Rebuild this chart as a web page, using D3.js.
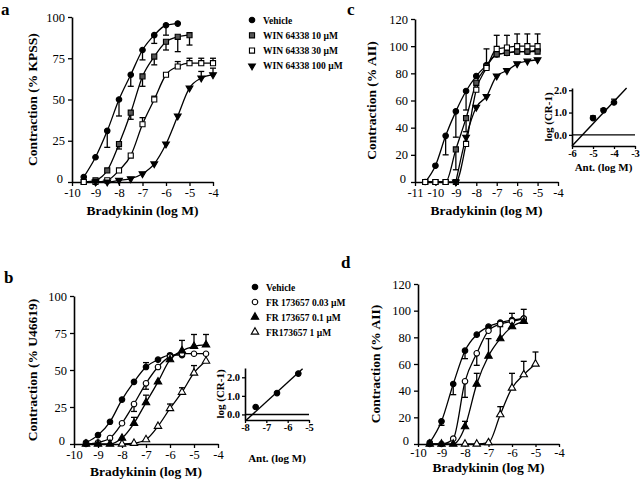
<!DOCTYPE html>
<html><head><meta charset="utf-8">
<script src="https://cdn.jsdelivr.net/npm/d3@7"></script>
<style>
body{margin:0;background:#fff}
svg{display:block}
svg text{font-family:"Liberation Serif","DejaVu Serif",serif !important;fill:#000}
</style>
</head><body>
<svg id="c" width="640" height="480"></svg>
<script>
// ---------- DATA ----------
// Panel a (WIN 64338, % KPSS)
const aVehX = [-9.5,-9,-8.5,-8,-7.5,-7,-6.5,-6,-5.5];
const aVehY = [3,15,31,50,65,80,89,95,96];
const aVehE = [0,0,-10,-10,-7,-6,-5,-6,0];
const aW10X = [-9.5,-9,-8.5,-8,-7.5,-7,-6.5,-6,-5.5,-5];
const aW10Y = [0,1,7,23,42,64,76,85,88,89];
const aW10E = [0,0,0,-3,-4,-6,-5,-5,-9,-6];
const aW30X = [-9.5,-9,-8.5,-8,-7.5,-7,-6.5,-6,-5.5,-5,-4.5,-4];
const aW30Y = [0,0,1,7,16,35,50,65,70,72,72,72];
const aW30E = [0,0,0,0,0,4,2,0,3,3,3,3];
const aW100X = [-9,-8.5,-8,-7.5,-7,-6.5,-6,-5.5,-5,-4.5,-4];
const aW100Y = [0,0,1,2,5,11,23,40,57,63,65];
const aW100E = [0,0,0,0,0,0,0,0,0,4,4];

// Panel c (WIN 64338, % AII)
const cX = [-10.5,-10,-9.5,-9,-8.5,-8,-7.5,-7,-6.5,-6,-5.5,-5];
const cVehY = [0,12,34,52,67,78,86,94,95,96,96,97];
const cVehE = [0,0,-14,-19,-14,0,0,0,0,0,0,0];
const cW10Y = [0,0,0,24,47,73,85,94,95,96,96,96];
const cW10E = [0,0,0,-15,-10,0,0,0,0,0,0,0];
const cW30Y = [0,0,0,0,28,68,84,98,99,100,100,100];
const cW30E = [0,0,0,0,0,0,14,10,9,9,9,9];
const cW100X = [-9,-8.5,-8,-7.5,-7,-6.5,-6,-5.5,-5];
const cW100Y = [0,33,55,63,78,82,87,89,90];
const cW100E = [0,0,0,0,0,0,0,0,0];

// Panel b (FR 173657, % U46619)
const bVehX = [-9.5,-9,-8.5,-8,-7.5,-7,-6.5,-6,-5.5];
const bVehY = [1,6,15,30,42,52,57,60,60];
const bVehE = [0,0,0,0,0,3,0,0,0];
const bF003X = [-9.5,-9,-8.5,-8,-7.5,-7,-6.5,-6,-5.5,-5,-4.5];
const bF003Y = [0,1,4,14,27,41,52,59,61,61,61];
const bF003E = [0,0,0,0,-5,-4,0,0,0,0,0];
const bF01X = [-9.5,-9,-8.5,-8,-7.5,-7,-6.5,-6,-5.5,-5,-4.5];
const bF01Y = [0,0,0,4,14,28,42,57,63,66,67];
const bF01E = [0,0,0,0,4,5,0,0,7,8,7];
const bF1X = [-8,-7.5,-7,-6.5,-6,-5.5,-5,-4.5];
const bF1Y = [0,0.5,3,12,24,35,48,56];
const bF1E = [0,0,0,0,3,3,5,0];

// Panel d (FR 173657, % AII)
const dX = [-9.5,-9,-8.5,-8,-7.5,-7,-6.5,-6,-5.5];
const dVehY = [1,17,45,70,82,88,91,93,94];
const dVehE = [0,-3,-8,-6,0,0,0,5,7];
const dF003Y = [0,0,4,47,68,85,90,92,94];
const dF003E = [0,0,0,-12,-9,0,0,0,0];
const dF01Y = [0,0,0,13,45,66,79,88,92];
const dF01E = [0,0,0,4,8,13,9,0,0];
const dF1X = [-8,-7.5,-7,-6.5,-6,-5.5,-5];
const dF1Y = [0,0,1,22,42,52,60];
const dF1E = [0,0,0,6,11,10,9];

// Schild insets
const bAntX = [-7.5,-6.5,-5.5];
const bAntY = [0.4,1.15,2.2];
const bFit = {slope:1.05, intercept:8.03, from:-7.95, to:-5.3};
const cAntX = [-5,-4.5,-4];
const cAntY = [0.75,1.1,1.45];
const cAntE = [0.1,0.08,0.15];
const cFit = {slope:1.0, intercept:5.5, from:-6, to:-3.4};

// Legends and tick labels
const legendA = ["Vehicle","WIN 64338 10 \u00b5M","WIN 64338 30 \u00b5M","WIN 64338 100 \u00b5M"];
const legendB = ["Vehicle","FR 173657 0.03 \u00b5M","FR 173657 0.1 \u00b5M","FR173657 1 \u00b5M"];
const ticksX10 = [-10,-9,-8,-7,-6,-5,-4];
const ticksX11 = [-11,-10,-9,-8,-7,-6,-5,-4];
const ticksY100 = [0,25,50,75,100];
const ticksY120 = [0,20,40,60,80,100,120];

// ---------- DRAWING ----------
const FONT = "'Liberation Serif','DejaVu Serif',serif";
const svg = d3.select("#c");
const SYM = {
  fc:{t:d3.symbolCircle,s:24,f:"#000",r:0},
  gs:{t:d3.symbolSquare,s:26,f:"#555",r:0},
  os:{t:d3.symbolSquare,s:26,f:"#fff",r:0},
  ftd:{t:d3.symbolTriangle,s:20,f:"#000",r:180},
  oc:{t:d3.symbolCircle,s:24,f:"#fff",r:0},
  ft:{t:d3.symbolTriangle,s:24,f:"#000",r:0},
  ot:{t:d3.symbolTriangle,s:24,f:"#fff",r:0}
};
function drawSym(g, key, px, py){
  const s = SYM[key];
  g.append("path").attr("d", d3.symbol().type(s.t).size(s.s)())
    .attr("transform", `translate(${px},${py}) rotate(${s.r})`)
    .attr("fill", s.f).attr("stroke","#000").attr("stroke-width",1.1);
}
function styleAxis(sel, fs){
  sel.attr("font-family", FONT);
  sel.select(".domain").attr("stroke","#000").attr("stroke-width",1.6);
  sel.selectAll(".tick line").attr("stroke","#000").attr("stroke-width",1.3);
  sel.selectAll(".tick text").attr("font-size",fs).attr("fill","#000").style("font-family", FONT);
}
function txt(g){ return g.append("text").style("font-family", FONT); }
function panel(cfg){
  const x = d3.scaleLinear().domain(cfg.xd).range(cfg.xr);
  const y = d3.scaleLinear().domain(cfg.yd).range(cfg.yr);
  const g = svg.append("g");
  const ax = g.append("g").attr("transform",`translate(0,${cfg.yr[0]})`)
    .call(d3.axisBottom(x).tickValues(cfg.xt).tickSize(cfg.xts||4).tickSizeOuter(0).tickPadding(cfg.xpad||2).tickFormat(d=>String(d)));
  styleAxis(ax, 12.5);
  const ay = g.append("g").attr("transform",`translate(${cfg.xr[0]},0)`)
    .call(d3.axisLeft(y).tickValues(cfg.yt).tickSize(4).tickSizeOuter(0).tickPadding(3).tickFormat(d=>String(d)));
  styleAxis(ay, 12.5);
  ay.selectAll(".tick text").filter(d=>d===0).attr("dy","0.05em").attr("dx","-2");
  txt(g).attr("x",(cfg.xr[0]+cfg.xr[1])/2).attr("y",cfg.xtY)
    .attr("text-anchor","middle").attr("font-size",13.5).attr("font-weight","bold").text("Bradykinin (log M)");
  txt(g).attr("transform",`translate(${cfg.ytX},${(cfg.yr[0]+cfg.yr[1])/2}) rotate(-90)`)
    .attr("text-anchor","middle").attr("font-size",13.5).attr("font-weight","bold").text(cfg.ytitle);
  txt(g).attr("x",cfg.lab[0]).attr("y",cfg.lab[1]).attr("font-size",17).attr("font-weight","bold").text(cfg.label);
  const line = d3.line().x(d=>x(d[0])).y(d=>y(d[1])).curve(d3.curveMonotoneX);
  cfg.series.forEach(s=>{
    const pts = s.x.map((v,i)=>[v,s.y[i]]);
    g.append("path").attr("d",line(pts)).attr("fill","none").attr("stroke","#000").attr("stroke-width",1.3);
  });
  cfg.series.forEach(s=>{
    s.x.forEach((v,i)=>{
      const e = s.e[i]; if(!e) return;
      const px = x(v), y0 = y(s.y[i]), y1 = y(s.y[i]+e);
      g.append("line").attr("x1",px).attr("x2",px).attr("y1",y0).attr("y2",y1).attr("stroke","#000").attr("stroke-width",1.3);
      g.append("line").attr("x1",px-3).attr("x2",px+3).attr("y1",y1).attr("y2",y1).attr("stroke","#000").attr("stroke-width",1.3);
    });
  });
  cfg.series.forEach(s=>{
    s.x.forEach((v,i)=> drawSym(g, s.sym, x(v), y(s.y[i])));
  });
}
function inset(cfg){
  const x = d3.scaleLinear().domain(cfg.xd).range(cfg.xr);
  const y = d3.scaleLinear().domain(cfg.yd).range(cfg.yr);
  const g = svg.append("g");
  const ax = g.append("g").attr("transform",`translate(0,${cfg.yr[0]})`)
    .call(d3.axisBottom(x).tickValues(cfg.xt).tickSize(3).tickSizeOuter(0).tickPadding(1).tickFormat(d=>String(d)));
  styleAxis(ax, 10.5);
  const ay = g.append("g").attr("transform",`translate(${cfg.xr[0]},0)`)
    .call(d3.axisLeft(y).tickValues(cfg.yt).tickSize(3).tickSizeOuter(0).tickPadding(2).tickFormat(d3.format(".1f")));
  styleAxis(ay, 10.5);
  g.selectAll(".tick text").attr("font-weight","bold");
  g.append("line").attr("x1",x(cfg.xd[0])).attr("x2",x(cfg.xd[1])).attr("y1",y(0)).attr("y2",y(0))
    .attr("stroke","#000").attr("stroke-width",1.4);
  const f = cfg.fit;
  g.append("line").attr("x1",x(f.from)).attr("y1",y(f.slope*f.from+f.intercept))
    .attr("x2",x(f.to)).attr("y2",y(f.slope*f.to+f.intercept)).attr("stroke","#000").attr("stroke-width",1.4);
  if(cfg.e){
    cfg.x.forEach((v,i)=>{
      const px=x(v), y0=y(cfg.y[i]), y1=y(cfg.y[i]+cfg.e[i]);
      g.append("line").attr("x1",px).attr("x2",px).attr("y1",y0).attr("y2",y1).attr("stroke","#000").attr("stroke-width",1.2);
      g.append("line").attr("x1",px-3).attr("x2",px+3).attr("y1",y1).attr("y2",y1).attr("stroke","#000").attr("stroke-width",1.2);
    });
  }
  cfg.x.forEach((v,i)=> drawSym(g,"fc",x(v),y(cfg.y[i])));
  txt(g).attr("x",(cfg.xr[0]+cfg.xr[1])/2).attr("y",cfg.xtY).attr("text-anchor","middle")
    .attr("font-size",11).attr("font-weight","bold").text("Ant. (log M)");
  txt(g).attr("transform",`translate(${cfg.ytX},${(cfg.yr[0]+cfg.yr[1])/2}) rotate(-90)`)
    .attr("text-anchor","middle").attr("font-size",11).attr("font-weight","bold").text("log (CR-1)");
}
function legend(items, syms, x0, y0, dy){
  const g = svg.append("g");
  items.forEach((t,i)=>{
    drawSym(g, syms[i], x0, y0+i*dy);
    txt(g).attr("x",x0+11).attr("y",y0+i*dy+3.5).attr("font-size",9.5).attr("font-weight","bold").text(t);
  });
}

panel({xd:[-10,-4], xr:[72,213], yd:[0,100], yr:[182,17], xt:ticksX10, yt:ticksY100,
  xtY:215, ytX:37, ytitle:"Contraction (% KPSS)", label:"a", lab:[1,15],
  series:[
    {x:aVehX,y:aVehY,e:aVehE,sym:"fc"},
    {x:aW10X,y:aW10Y,e:aW10E,sym:"gs"},
    {x:aW30X,y:aW30Y,e:aW30E,sym:"os"},
    {x:aW100X,y:aW100Y,e:aW100E,sym:"ftd"}]});
panel({xd:[-11,-4], xr:[415,558], yd:[0,120], yr:[182,19], xt:ticksX11, yt:ticksY120,
  xtY:215, ytX:376, ytitle:"Contraction (% AII)", label:"c", lab:[347,15],
  series:[
    {x:cX,y:cVehY,e:cVehE,sym:"fc"},
    {x:cX,y:cW10Y,e:cW10E,sym:"gs"},
    {x:cX,y:cW30Y,e:cW30E,sym:"os"},
    {x:cW100X,y:cW100Y,e:cW100E,sym:"ftd"}]});
panel({xd:[-10,-4], xr:[74,218], yd:[0,100], yr:[444,296], xt:ticksX10, yt:ticksY100,
  xtY:476, ytX:37, ytitle:"Contraction (% U46619)", label:"b", lab:[4,283],
  series:[
    {x:bVehX,y:bVehY,e:bVehE,sym:"fc"},
    {x:bF003X,y:bF003Y,e:bF003E,sym:"oc"},
    {x:bF01X,y:bF01Y,e:bF01E,sym:"ft"},
    {x:bF1X,y:bF1Y,e:bF1E,sym:"ot"}]});
panel({xd:[-10,-4], xr:[418,559], yd:[0,120], yr:[444,284], xt:ticksX10, yt:ticksY120,
  xtY:472, xts:3, xpad:1, ytX:380, ytitle:"Contraction (% AII)", label:"d", lab:[341,268],
  series:[
    {x:dX,y:dVehY,e:dVehE,sym:"fc"},
    {x:dX,y:dF003Y,e:dF003E,sym:"oc"},
    {x:dX,y:dF01Y,e:dF01E,sym:"ft"},
    {x:dF1X,y:dF1Y,e:dF1E,sym:"ot"}]});

inset({xd:[-6,-3], xr:[572,635], yd:[-0.5,2.1], yr:[146,88], xt:[-6,-5,-4,-3], yt:[0,1,2],
  x:cAntX, y:cAntY, e:cAntE, fit:cFit, xtY:171, ytX:552});
inset({xd:[-8,-5], xr:[245,309], yd:[-0.3,2.5], yr:[420,368], xt:[-8,-7,-6,-5], yt:[0,1,2],
  x:bAntX, y:bAntY, e:null, fit:bFit, xtY:462, ytX:224});

legend(legendA, ["fc","gs","os","ftd"], 252, 20, 15.3);
legend(legendB, ["fc","oc","ft","ot"], 255, 287, 15);
</script>
</body></html>
